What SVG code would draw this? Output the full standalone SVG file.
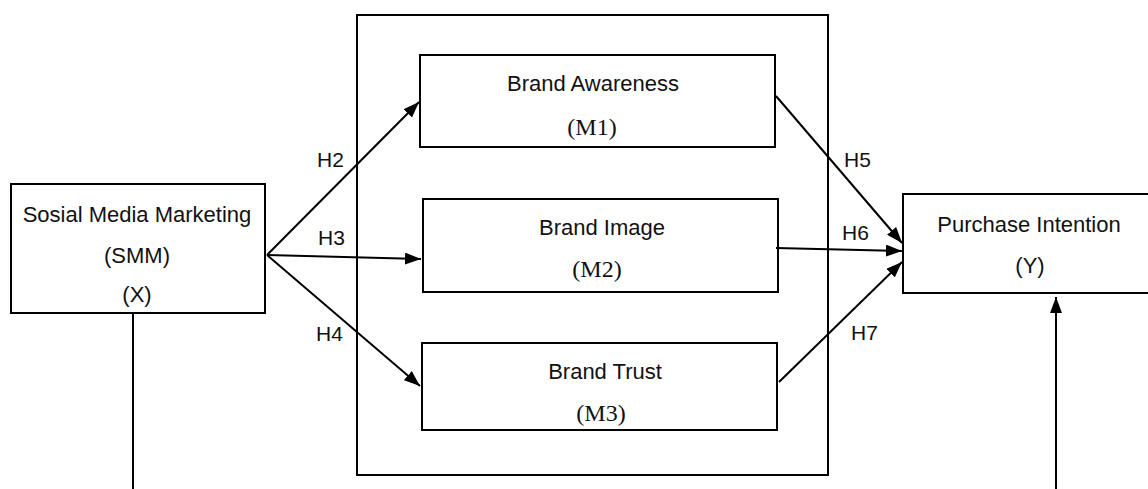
<svg xmlns="http://www.w3.org/2000/svg" width="1148" height="489" viewBox="0 0 1148 489">
<style>
.box{fill:#fff;stroke:#000;stroke-width:2}
.frame{fill:none;stroke:#000;stroke-width:2}
.s{font-family:"Liberation Sans",Arial,sans-serif;font-size:22px;fill:#111;text-anchor:middle}
.m{font-family:"Liberation Serif","Times New Roman",serif;font-size:24px;fill:#111;text-anchor:middle}
.h{font-family:"Liberation Sans",Arial,sans-serif;font-size:21px;fill:#111}
.c{fill:none;stroke:#000;stroke-width:2}
</style>
<defs>
<marker id="ah" viewBox="0 0 16 12" refX="16" refY="6" markerWidth="16" markerHeight="12" markerUnits="userSpaceOnUse" orient="auto">
<path d="M0,0 L16,6 L0,12 Z" fill="#000"/>
</marker>
</defs>
<rect width="1148" height="489" fill="#fff"/>
<g id="frame"><rect class="frame" x="357" y="15" width="471" height="460"/></g>
<g id="smm">
<rect class="box" x="11" y="184" width="254" height="129"/>
<text class="s" x="137" y="222">Sosial Media Marketing</text>
<text class="s" x="137" y="263">(SMM)</text>
<text class="s" x="137" y="302">(X)</text>
</g>
<g id="m1">
<rect class="box" x="420" y="55" width="355" height="92"/>
<text class="s" x="593" y="91">Brand Awareness</text>
<text class="m" x="592" y="135">(M1)</text>
</g>
<g id="m2">
<rect class="box" x="423" y="199" width="355" height="93"/>
<text class="s" x="602" y="235">Brand Image</text>
<text class="m" x="597" y="277">(M2)</text>
</g>
<g id="m3">
<rect class="box" x="422" y="343" width="355" height="87"/>
<text class="s" x="605" y="379">Brand Trust</text>
<text class="m" x="601" y="421">(M3)</text>
</g>
<g id="y">
<rect class="box" x="903" y="194" width="260" height="99"/>
<text class="s" x="1029" y="232">Purchase Intention</text>
<text class="s" x="1030" y="273">(Y)</text>
</g>
<g id="connectors">
<line class="c" x1="267" y1="255" x2="419" y2="102" marker-end="url(#ah)"/>
<line class="c" x1="267" y1="255" x2="421" y2="259" marker-end="url(#ah)"/>
<line class="c" x1="267" y1="255" x2="420" y2="386" marker-end="url(#ah)"/>
<line class="c" x1="776" y1="96" x2="902" y2="243" marker-end="url(#ah)"/>
<line class="c" x1="776" y1="248" x2="902" y2="251" marker-end="url(#ah)"/>
<line class="c" x1="779" y1="382" x2="902" y2="262" marker-end="url(#ah)"/>
<line class="c" x1="133" y1="313" x2="133" y2="489"/>
<line class="c" x1="1056" y1="489" x2="1056" y2="297" marker-end="url(#ah)"/>
<text class="h" x="317" y="167">H2</text>
<text class="h" x="318" y="245">H3</text>
<text class="h" x="316" y="341">H4</text>
<text class="h" x="844" y="167">H5</text>
<text class="h" x="842" y="240">H6</text>
<text class="h" x="851" y="340">H7</text>
</g>
</svg>
